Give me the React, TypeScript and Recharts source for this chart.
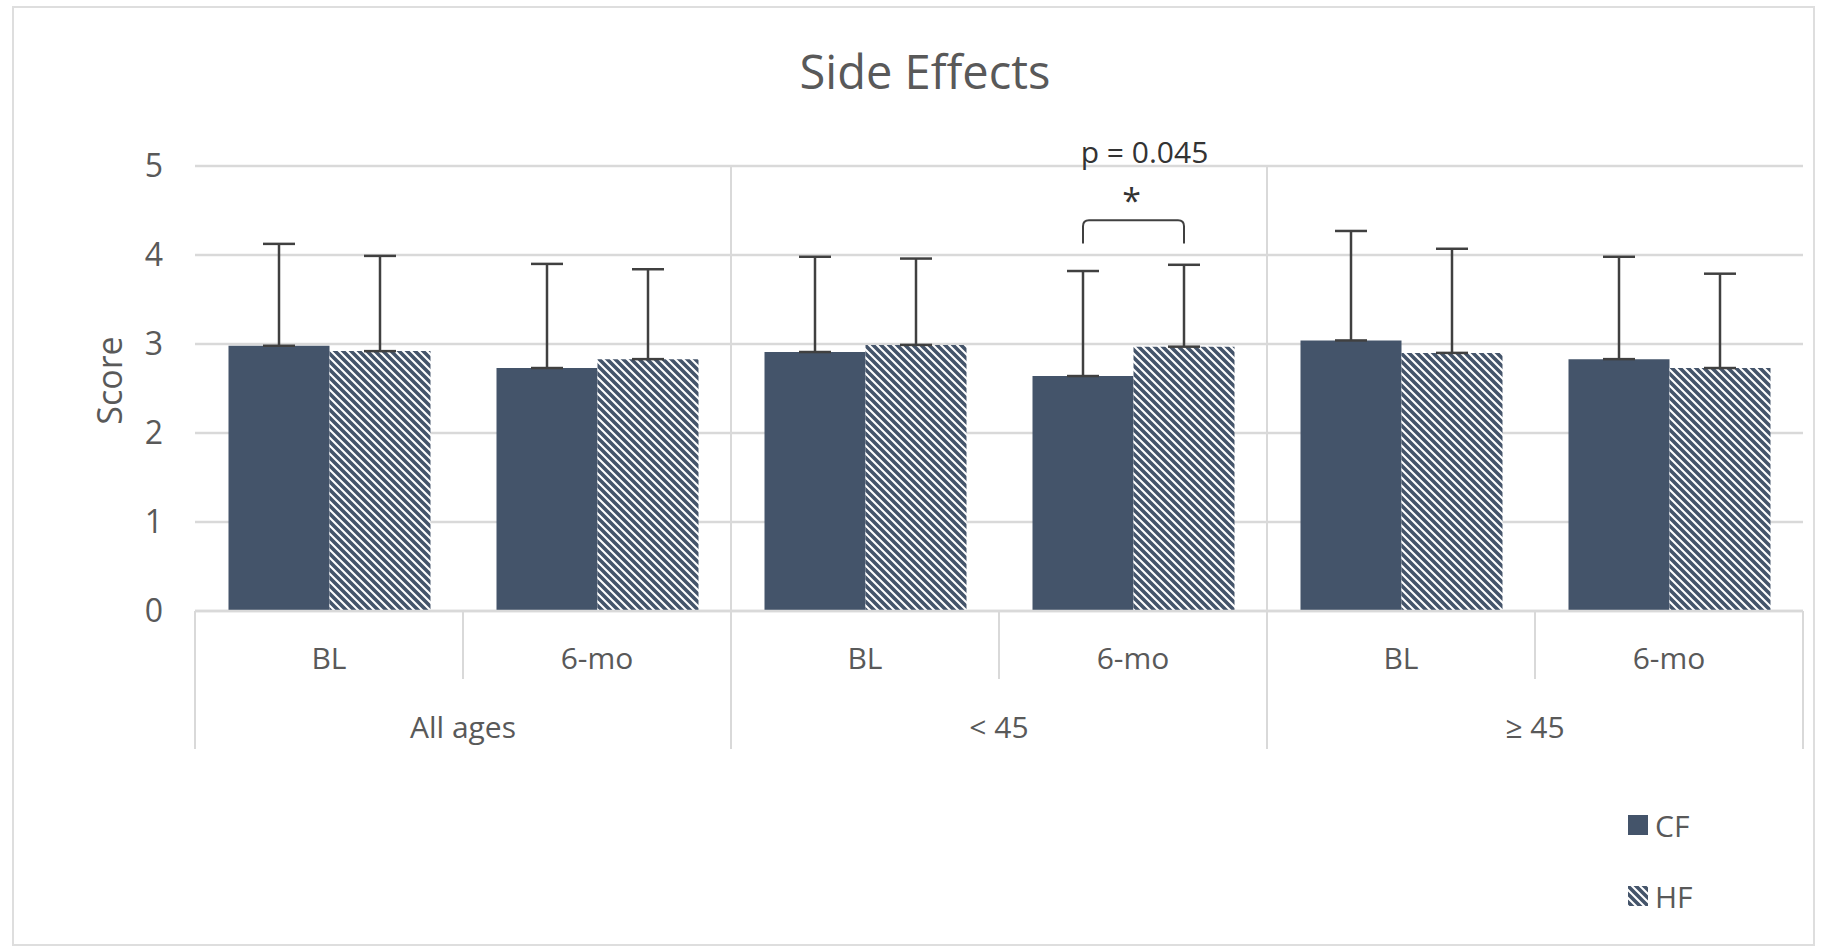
import React from 'react';
import {
  BarChart,
  Bar,
  XAxis,
  YAxis,
  CartesianGrid,
  ErrorBar,
  ReferenceLine,
  LabelList,
  Legend,
} from 'recharts';

// ---------- data ----------
const groups = ['All ages', '< 45', '≥ 45'];
const timepoints = ['BL', '6-mo'];
const cfMeans = [2.98, 2.73, 2.91, 2.64, 3.04, 2.83];
const hfMeans = [2.92, 2.83, 2.99, 2.97, 2.9, 2.73];
const cfSD = [1.145, 1.17, 1.07, 1.18, 1.23, 1.15];
const hfSD = [1.07, 1.01, 0.97, 0.92, 1.17, 1.06];
const yTicks = [0, 1, 2, 3, 4, 5];
const seriesNames = ['CF', 'HF'];
const chartTitle = 'Side Effects';
const yLabel = 'Score';

// significance annotation (data units)
const SIG_INDEX = 3;
const SIG_TEXT = 'p = 0.045';
const SIG_MARK = '*';
const BRACKET_TOP = 4.39;
const BRACKET_LEG = 4.13;
const STAR_BASE = 4.47;
const PVAL_BASE = 5.03;

const data = groups.flatMap((g, gi) =>
  timepoints.map((t, ti) => {
    const i = gi * 2 + ti;
    return {
      key: `${g}|${t}`,
      cf: cfMeans[i],
      hf: hfMeans[i],
      cfErr: [0, cfSD[i]],
      hfErr: [0, hfSD[i]],
    };
  })
);

// ---------- style ----------
const W = 1821;
const H = 950;
const FONT = '"Open Sans", "Noto Sans", sans-serif';
const BAR = '#44546A';
const GRID = '#d9d9d9';
const TEXT = '#595959';
const MARGIN = { top: 166, right: 18, left: 0, bottom: 199 };
const Y_W = 195;
const PLOT_W = W - MARGIN.left - MARGIN.right - Y_W;

const AxisTick = (props: any) => {
  const { x, y, payload, index } = props;
  const half = payload && payload.offset ? payload.offset : PLOT_W / data.length / 2;
  const parts = String(payload.value).split('|');
  const g = parts[0];
  const t = parts[1];
  const isFirst = timepoints.indexOf(t) === 0;
  const isLast = index === data.length - 1;
  return (
    <g>
      <text x={x} y={y + 58} textAnchor="middle" fontSize={30} fill={TEXT} fontFamily={FONT}>
        {t}
      </text>
      <line x1={x - half} x2={x - half} y1={y} y2={y + (isFirst ? 138 : 68)} stroke={GRID} strokeWidth={2} />
      {isFirst && (
        <text x={x + half} y={y + 127} textAnchor="middle" fontSize={30} fill={TEXT} fontFamily={FONT}>
          {g}
        </text>
      )}
      {isLast && <line x1={x + half} x2={x + half} y1={y} y2={y + 138} stroke={GRID} strokeWidth={2} />}
    </g>
  );
};

const SigBracket = (props: any) => {
  const { index } = props;
  if (index !== SIG_INDEX) return null;
  const vb = props.viewBox || {};
  const x = Number(props.x ?? vb.x);
  const y = Number(props.y ?? vb.y);
  const w = Number(props.width ?? vb.width);
  const h = Number(props.height ?? vb.height);
  const v = hfMeans[index];
  const ppu = h / v;
  const base = y + h;
  const xL = x - w / 2;
  const xR = x + w / 2;
  const yTop = base - BRACKET_TOP * ppu;
  const yLeg = base - BRACKET_LEG * ppu;
  const r = 6;
  const d = `M${xL},${yLeg} L${xL},${yTop + r} Q${xL},${yTop} ${xL + r},${yTop} L${xR - r},${yTop} Q${xR},${yTop} ${xR},${yTop + r} L${xR},${yLeg}`;
  const xm = (xL + xR) / 2;
  return (
    <g>
      <path d={d} fill="none" stroke="#404040" strokeWidth={2} />
      <text x={xm - 2} y={base - STAR_BASE * ppu} textAnchor="middle" fontSize={34} fill="#333" fontFamily={FONT}>
        {SIG_MARK}
      </text>
      <text x={xm + 11} y={base - PVAL_BASE * ppu} textAnchor="middle" fontSize={30} fill="#333" fontFamily={FONT}>
        {SIG_TEXT}
      </text>
    </g>
  );
};

const StripeDefs = ({ id }: { id: string }) => (
  <defs>
    <pattern id={id} patternUnits="userSpaceOnUse" width="8" height="8">
      <rect width="8" height="8" fill="#ffffff" />
      <path d="M-2,-2 L10,10 M-2,6 L2,10 M6,-2 L10,2" stroke={BAR} strokeWidth={3.6} />
    </pattern>
  </defs>
);

const LegendContent = () => (
  <div style={{ fontFamily: FONT, fontSize: 30, color: TEXT }}>
    <div style={{ display: 'flex', alignItems: 'center', height: 40 }}>
      <svg width={20} height={20} style={{ display: 'block' }}>
        <rect width={20} height={20} fill={BAR} />
      </svg>
      <span style={{ marginLeft: 7 }}>{seriesNames[0]}</span>
    </div>
    <div style={{ display: 'flex', alignItems: 'center', height: 40, marginTop: 31 }}>
      <svg width={20} height={20} style={{ display: 'block' }}>
        <StripeDefs id="hfStripesLegend" />
        <rect width={20} height={20} fill="url(#hfStripesLegend)" />
      </svg>
      <span style={{ marginLeft: 7 }}>{seriesNames[1]}</span>
    </div>
  </div>
);

export default function App() {
  return (
    <div style={{ position: 'absolute', left: 0, top: 0, width: W, height: H, fontFamily: FONT, background: '#fff' }}>
      <div
        style={{
          position: 'absolute',
          left: 12,
          top: 6,
          width: W - 18,
          height: H - 10,
          border: '2px solid #dedede',
          boxSizing: 'border-box',
        }}
      />
      <div
        style={{
          position: 'absolute',
          left: 0,
          top: 48,
          width: 1850,
          textAlign: 'center',
          fontSize: 47,
          lineHeight: '47px',
          color: TEXT,
          fontFamily: FONT,
        }}
      >
        {chartTitle}
      </div>
      <div style={{ position: 'absolute', left: 0, top: 0 }}>
        <BarChart width={W} height={H} data={data} margin={MARGIN} barCategoryGap="12.5%" barGap={0}>
          <StripeDefs id="hfStripes" />
          <CartesianGrid vertical={false} stroke={GRID} strokeWidth={2.5} />
          <XAxis
            dataKey="key"
            interval={0}
            tick={<AxisTick />}
            tickLine={false}
            tickSize={0}
            tickMargin={0}
            axisLine={{ stroke: GRID, strokeWidth: 2.5 }}
            height={140}
          />
          <YAxis
            domain={[0, 5]}
            ticks={yTicks}
            axisLine={false}
            tickLine={false}
            tickSize={0}
            tickMargin={32}
            width={Y_W}
            tick={{ fontSize: 32, fill: TEXT, fontFamily: FONT }}
            label={{ value: yLabel, angle: -90, position: 'center', dx: 12, dy: -8, fontSize: 34, fill: TEXT, fontFamily: FONT }}
          />
          <ReferenceLine x={data[2].key} position="start" stroke={GRID} strokeWidth={2} />
          <ReferenceLine x={data[4].key} position="start" stroke={GRID} strokeWidth={2} />
          <Bar dataKey="cf" name={seriesNames[0]} fill={BAR} isAnimationActive={false}>
            <ErrorBar dataKey="cfErr" direction="y" width={16} stroke="#404040" strokeWidth={2.5} />
          </Bar>
          <Bar dataKey="hf" name={seriesNames[1]} fill="url(#hfStripes)" isAnimationActive={false}>
            <ErrorBar dataKey="hfErr" direction="y" width={16} stroke="#404040" strokeWidth={2.5} />
            <LabelList dataKey="hf" content={<SigBracket />} />
          </Bar>
          <Legend
            layout="vertical"
            align="center"
            verticalAlign="middle"
            wrapperStyle={{ left: 1628, top: 805, width: 140 }}
            content={<LegendContent />}
          />
        </BarChart>
      </div>
    </div>
  );
}
